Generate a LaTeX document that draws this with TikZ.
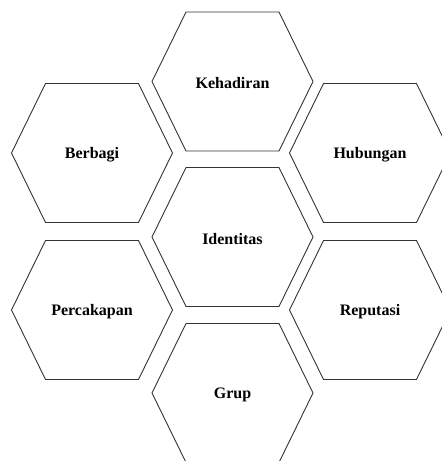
\documentclass[tikz,border=0pt]{standalone}
\usepackage{fontspec}
\setmainfont{Liberation Serif}
\begin{document}
\begin{tikzpicture}[x=1pt, y=-1pt,
  hexcell/.style={draw=black!80, line width=0.9pt, line join=round},
  celltext/.style={font=\bfseries\fontsize{16}{19}\selectfont}]
  \useasboundingbox (0,0) rectangle (442,461);
  \clip (0,0) rectangle (442,461);
  % honeycomb cells: name/x/y/text
  \foreach \name/\cx/\cy/\txt in {keh/232.5/81.5/Kehadiran, ber/92/153/Berbagi,
      hub/370/153/Hubungan, ide/232.5/237/Identitas, per/92/310/Percakapan,
      rep/370/310/Reputasi, gru/232.5/393/Grup}{
    \draw[hexcell] (\cx-80.5,\cy) -- (\cx-46.5,\cy-69.5) -- (\cx+46.5,\cy-69.5)
      -- (\cx+80.5,\cy) -- (\cx+46.5,\cy+69.5) -- (\cx-46.5,\cy+69.5) -- cycle;
    \node[celltext] (\name) at (\cx,\cy+2) {\txt};
  }
\end{tikzpicture}
\end{document}
